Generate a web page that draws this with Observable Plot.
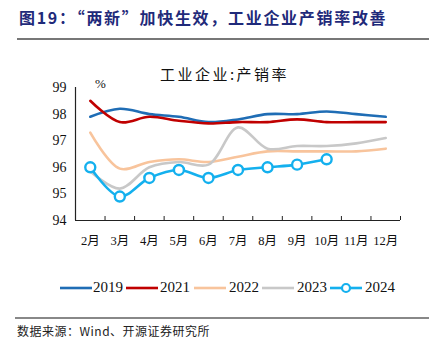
<!DOCTYPE html>
<html><head><meta charset="utf-8">
<script src="https://cdn.jsdelivr.net/npm/d3@7"></script>
<script src="https://cdn.jsdelivr.net/npm/@observablehq/plot@0.6"></script>
<style>
body{margin:0;background:#fff;}
#wrap{position:relative;width:429px;height:353px;overflow:hidden;background:#fff;}
.abs{position:absolute;white-space:nowrap;}
#title{left:19px;top:5px;font:bold 16px "Noto Sans CJK SC",sans-serif;color:#1f2a7a;letter-spacing:1.7px;}
#tline{left:17px;top:38px;width:412px;height:2px;background:#777;}
#ctitle{left:10px;width:429px;text-align:center;top:63px;font:15px "Noto Sans CJK SC",sans-serif;color:#111;letter-spacing:2.5px;}
#pct{left:95px;top:76px;font:13px "Liberation Serif",serif;color:#111;}
#legend{left:0;top:277px;width:429px;font:15px "Liberation Serif",serif;color:#111;}
#legend span{position:absolute;top:2px;}
#fline{left:15px;top:317px;width:414px;height:2px;background:#888;}
#src{left:17px;top:322px;font:12px "Noto Sans CJK SC",sans-serif;color:#222;letter-spacing:0.5px;}
</style></head>
<body><div id="wrap">
<div id="title" class="abs">图19：“两新”加快生效，工业企业产销率改善</div>
<div id="tline" class="abs"></div>
<div id="ctitle" class="abs">工业企业:产销率</div>
<div id="pct" class="abs">%</div>
<div id="legend" class="abs"></div>
<div id="fline" class="abs"></div>
<div id="src" class="abs">数据来源：Wind、开源证券研究所</div>
</div>
<script>
const months = [2,3,4,5,6,7,8,9,10,11,12];
const monthLabels = months.map(m => m + "月");
const yTicks = [94,95,96,97,98,99];
const seriesNames = ["2019","2021","2022","2023","2024"];
const seriesColors = ["#1f6db5","#c00000","#f8c49c","#c8c8c8","#14b0ee"];
const v2019 = [97.9,98.2,98.0,97.9,97.7,97.8,98.0,98.0,98.1,98.0,97.9];
const v2021 = [98.5,97.7,97.9,97.75,97.65,97.7,97.7,97.8,97.7,97.7,97.7];
const v2022 = [97.3,95.95,96.2,96.3,96.2,96.4,96.6,96.6,96.6,96.6,96.7];
const v2023 = [95.85,95.2,96.0,96.2,96.1,97.5,96.7,96.8,96.8,96.9,97.1];
const v2024 = [96.0,94.9,95.6,95.9,95.6,95.9,96.0,96.1,96.3];

const allVals = [v2019,v2021,v2022,v2023,v2024];
const rows = [];
seriesNames.forEach((s,i) => allVals[i].forEach((v,j) => rows.push({series:s, month:months[j], value:v})));
const bounds = [months[0]-0.5, ...months.map(m => m+0.5)];
const xDomain = [bounds[0], bounds[bounds.length-1]];
const font = '"Liberation Serif","Noto Sans CJK SC",serif';

const chart = Plot.plot({
  width: 429, height: 260,
  marginLeft: 75, marginRight: 29, marginTop: 87, marginBottom: 40,
  style: {fontFamily: font, fontSize: "13px", color: "#111", background: "transparent", overflow: "visible"},
  x: {type: "linear", domain: xDomain, label: null},
  y: {domain: [yTicks[0], yTicks[yTicks.length-1]], label: null},
  color: {domain: seriesNames, range: seriesColors},
  marks: [
    Plot.axisY({ticks: yTicks, tickSize: 0, tickPadding: 9, fontSize: 14, label: null, tickFormat: d => String(d)}),
    Plot.axisX({ticks: months, tickSize: 0, tickPadding: 16, fontSize: 12.5, label: null, tickFormat: d => monthLabels[months.indexOf(d)]}),
    Plot.ruleX([xDomain[0]], {y1: yTicks[0], y2: yTicks[yTicks.length-1], stroke: "#222", strokeWidth: 1.2}),
    Plot.ruleY([yTicks[0]], {x1: xDomain[0], x2: xDomain[1], stroke: "#222", strokeWidth: 1.2}),
    Plot.ruleX(bounds, {y1: yTicks[0], y2: yTicks[0] + 0.15, stroke: "#222"}),
    Plot.line(rows, {x: "month", y: "value", z: "series", stroke: "series", strokeWidth: 2.6, curve: "catmull-rom"}),
    Plot.dot(rows.filter(d => d.series === "2024"), {x: "month", y: "value", r: 5, fill: "white", stroke: seriesColors[4], strokeWidth: 2.4})
  ]
});
chart.style.position = "absolute";
chart.style.left = "0px";
chart.style.top = "0px";
document.getElementById("wrap").appendChild(chart);

// legend
const leg = document.getElementById("legend");
const items = [[60,93],[126,160],[194,229],[262,297],[330,365]];
seriesNames.forEach((s,i) => {
  const [lx, tx] = items[i];
  const svg = document.createElementNS("http://www.w3.org/2000/svg","svg");
  svg.setAttribute("width", 32); svg.setAttribute("height", 14);
  svg.style.position = "absolute"; svg.style.left = lx + "px"; svg.style.top = "4px";
  let html = `<line x1="0" x2="32" y1="7" y2="7" stroke="${seriesColors[i]}" stroke-width="2.6"/>`;
  if (s === "2024") html += `<circle cx="16" cy="7" r="4" fill="white" stroke="${seriesColors[i]}" stroke-width="2.2"/>`;
  svg.innerHTML = html;
  leg.appendChild(svg);
  const sp = document.createElement("span");
  sp.textContent = s; sp.style.left = tx + "px";
  leg.appendChild(sp);
});
</script>
</body></html>
